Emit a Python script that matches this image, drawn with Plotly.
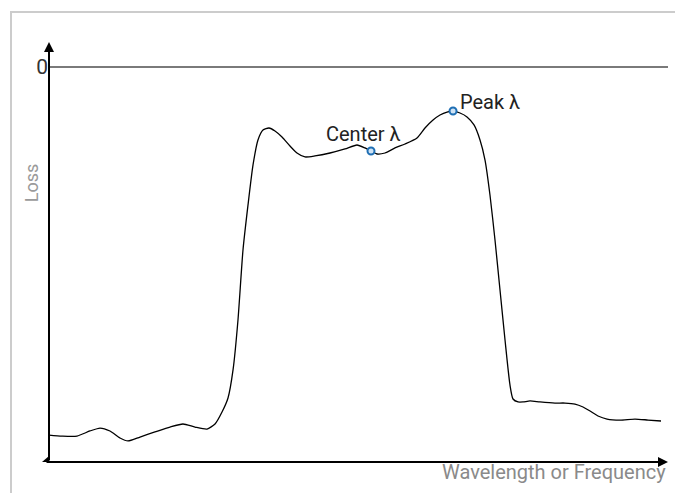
import plotly.graph_objects as go

# Relative wavelength (0-100) and loss (dB)
wavelength = [0, 2.1, 4.52, 6.62, 8.24, 9.85, 11.47, 12.76, 14.7, 17.12, 19.55, 21.65, 23.59, 25.53,
              26.82, 27.95, 28.92, 29.73, 30.53, 31.34, 32.15, 32.96, 33.76, 34.57, 35.54, 36.51,
              37.64, 38.93, 40.06, 41.36, 42.97, 45.4, 47.82, 49.76, 51.05, 52.02, 52.99, 54.28,
              55.9, 57.51, 59.45, 60.74, 62.04, 63.17, 64.3, 65.27, 66.4, 67.53, 68.66, 69.63,
              70.44, 71.24, 72.05, 72.86, 73.67, 74.47, 74.96, 75.77, 76.58, 77.71, 79.32, 81.74,
              83.36, 84.98, 86.27, 87.4, 88.69, 90.15, 92.25, 94.67, 96.77, 98.87]
loss = [-37.27, -37.37, -37.37, -36.86, -36.56, -36.86, -37.57, -37.87, -37.47, -36.96, -36.46,
        -36.15, -36.46, -36.66, -36.15, -34.94, -33.52, -30.68, -25.62, -18.53, -13.97, -9.92,
        -7.39, -6.38, -6.18, -6.48, -7.09, -8.0, -8.71, -9.11, -9.01, -8.71, -8.3, -7.9, -8.2,
        -8.51, -8.81, -8.71, -8.2, -7.8, -7.19, -6.18, -5.37, -4.86, -4.56, -4.46, -4.66, -5.06,
        -5.87, -7.39, -9.42, -12.96, -17.52, -22.58, -27.65, -32.2, -33.62, -33.92, -33.92,
        -33.82, -33.92, -34.03, -34.03, -34.13, -34.43, -34.84, -35.34, -35.65, -35.75, -35.65,
        -35.75, -35.85]

point_names = ["Center λ", "Peak λ"]
point_x = [52.02, 65.27]
point_y = [-8.51, -4.46]

FONT = "Roboto"

fig = go.Figure()
fig.add_trace(go.Scatter(x=wavelength, y=loss, mode="lines",
                         line=dict(color="black", width=1.3, shape="spline", smoothing=0.6),
                         hoverinfo="skip", showlegend=False))
fig.add_trace(go.Scatter(x=point_x, y=point_y, mode="markers",
                         marker=dict(size=7, color="#cfe3f5", line=dict(color="#1f6fb4", width=2)),
                         showlegend=False, cliponaxis=False))

# Point labels
fig.add_annotation(x=point_x[0], y=point_y[0], text=point_names[0], showarrow=False,
                   xanchor="center", yanchor="middle", xshift=-8, yshift=17,
                   font=dict(family=FONT, size=20, color="#222"))
fig.add_annotation(x=point_x[1], y=point_y[1], text=point_names[1], showarrow=False,
                   xanchor="left", yanchor="middle", xshift=5, yshift=9,
                   font=dict(family=FONT, size=20, color="#222"))

# Axis arrows
fig.add_annotation(x=0, y=1, xref="x", yref="paper", ax=0, ay=420, axref="pixel", ayref="pixel",
                   showarrow=True, arrowhead=2, arrowsize=1, arrowwidth=2, arrowcolor="black", text="")
fig.add_annotation(x=1, y=0, xref="paper", yref="paper", ax=-623, ay=0,
                   showarrow=True, arrowhead=2, arrowsize=1, arrowwidth=2, arrowcolor="black", text="")
fig.add_shape(type="path", xref="paper", yref="paper",
              path="M -0.0113,0 L 0,0 L 0,0.0143 Z", fillcolor="black", line=dict(width=0))

# Axis titles
fig.add_annotation(x=1, y=-0.024, xref="paper", yref="paper", text="Wavelength or Frequency",
                   showarrow=False, xanchor="right", yanchor="middle",
                   font=dict(family=FONT, size=20, color="#8a8a8a"))
fig.add_annotation(x=-0.029, y=0.664, xref="paper", yref="paper", text="Loss", textangle=-90,
                   showarrow=False, xanchor="center", yanchor="middle",
                   font=dict(family=FONT, size=18, color="#9a9a9a"))

# Outer light border
fig.add_shape(type="rect", xref="paper", yref="paper", x0=-0.0614, x1=1.05, y0=-0.2, y1=1.0714,
              line=dict(color="#cccccc", width=2), layer="below")

fig.update_xaxes(range=[0, 100], showgrid=False, zeroline=False, showticklabels=False,
                 showline=False, ticks="")
fig.update_yaxes(range=[-40, 2.53], showgrid=False, zeroline=True, zerolinecolor="#7a7a7a",
                 zerolinewidth=1.5, tickvals=[0], ticktext=["0"], ticks="", showline=False,
                 tickfont=dict(family=FONT, size=21, color="#333"))

fig.update_layout(width=675, height=493, margin=dict(l=49, r=7, t=42, b=31),
                  plot_bgcolor="white", paper_bgcolor="white", font=dict(family=FONT))

fig.write_html("out.html", config={"displayModeBar": False},
               post_script="document.body.style.margin='0';document.body.style.overflow='hidden';")
